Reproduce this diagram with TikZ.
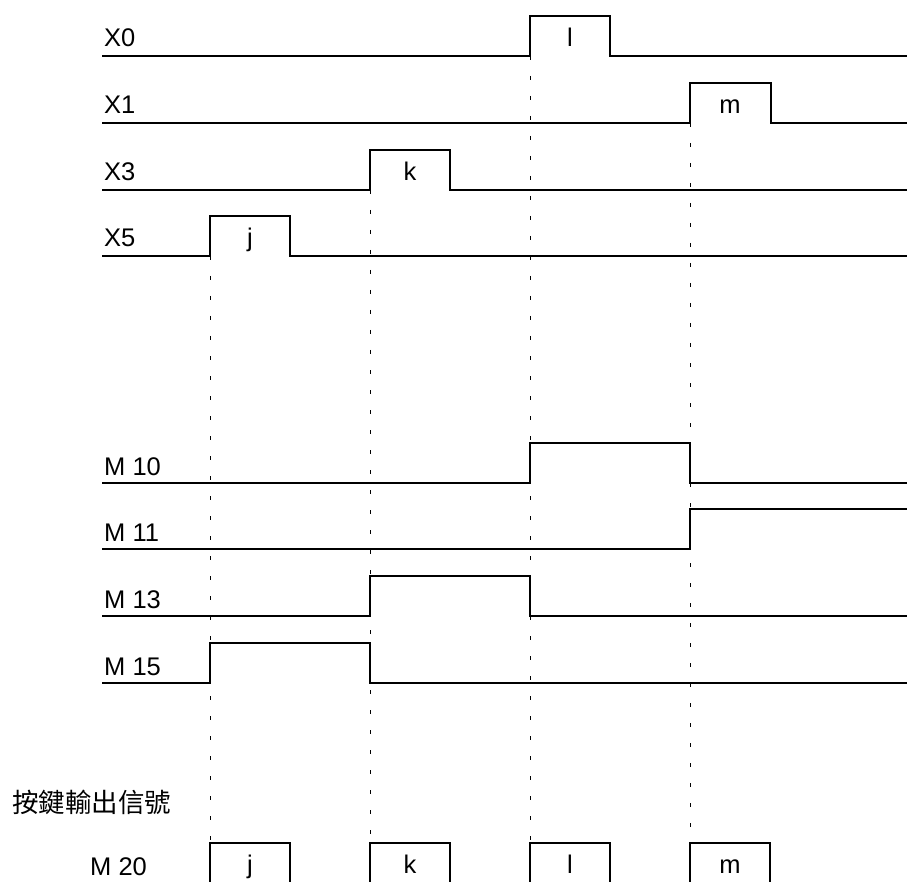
\documentclass[tikz,border=0pt]{standalone}
\usepackage{fontspec}
\setmainfont{Liberation Sans}
\newfontfamily\cjk{Noto Sans CJK TC}
\begin{document}
\begin{tikzpicture}[x=1pt,y=-1pt,
  sig/.style={line width=2.2pt,line join=miter,line cap=rect},
  guide/.style={line width=0.9pt,dash pattern=on 4pt off 16pt},
  lbl/.style={anchor=base west,inner sep=0pt,font=\fontsize{25.5}{28}\selectfont},
  plab/.style={anchor=base,inner sep=0pt,font=\fontsize{25.5}{28}\selectfont}]
\useasboundingbox (0,0) rectangle (907,882);
% labels
\node[lbl] (lx0) at (104,47) {X0};
\node[lbl] (lx1) at (104,114) {X1};
\node[lbl] (lx3) at (104,181) {X3};
\node[lbl] (lx5) at (104,247) {X5};
\node[lbl] (lm10) at (104,475) {M 10};
\node[lbl] (lm11) at (104,541) {M 11};
\node[lbl] (lm13) at (104,608) {M 13};
\node[lbl] (lm15) at (104,675) {M 15};
\node[lbl] (lm20) at (90,875) {M 20};
\node[anchor=base west,inner sep=0pt,font=\cjk\fontsize{26.5}{28}\selectfont] (lkey) at (12,812) {按鍵輸出信號};
% dotted guides
\draw[guide] (210,256) -- (210,843);
\draw[guide] (370,190) -- (370,843);
\draw[guide] (530,56) -- (530,843);
\draw[guide] (690,123) -- (690,843);
% input waveforms
\draw[sig] (103,56) -- (530,56) -- (530,16) -- (610,16) -- (610,56) -- (907,56);
\draw[sig] (103,123) -- (690,123) -- (690,83) -- (771,83) -- (771,123) -- (907,123);
\draw[sig] (103,190) -- (370,190) -- (370,150) -- (450,150) -- (450,190) -- (907,190);
\draw[sig] (103,256) -- (210,256) -- (210,216) -- (290,216) -- (290,256) -- (907,256);
\node[plab] (pl) at (570,47) {l};
\node[plab] (pm) at (730,114) {m};
\node[plab] (pk) at (410,181) {k};
\node[plab] (pj) at (250,247) {j};
% internal relays
\draw[sig] (103,483) -- (530,483) -- (530,443) -- (690,443) -- (690,483) -- (907,483);
\draw[sig] (103,549) -- (690,549) -- (690,509) -- (907,509);
\draw[sig] (103,616) -- (370,616) -- (370,576) -- (530,576) -- (530,616) -- (907,616);
\draw[sig] (103,683) -- (210,683) -- (210,643) -- (370,643) -- (370,683) -- (907,683);
% output pulses
\foreach \a/\t in {210/j,370/k,530/l,690/m}{
  \draw[sig] (\a,884) -- (\a,843) -- (\a+80,843) -- (\a+80,884);
  \node[plab] (o\t) at (\a+40,873) {\t};
}
\end{tikzpicture}
\end{document}
